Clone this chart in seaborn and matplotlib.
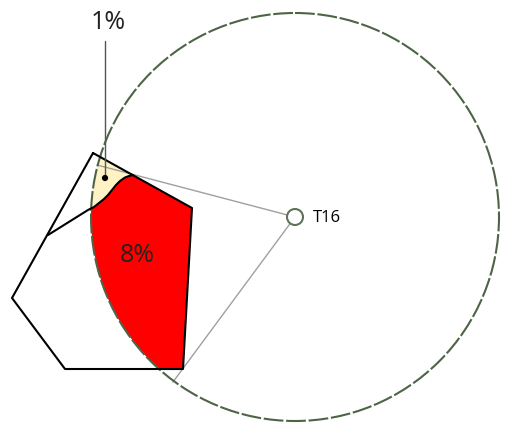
import numpy as np
import pandas as pd
import seaborn as sns
import matplotlib
matplotlib.use("Agg")
import matplotlib.pyplot as plt
from matplotlib.patches import Circle, Polygon

# ---- data (pixel-like map coordinates, y downward) ----
site_label = "T16"
site_xy = (295, 217)
buffer_radius = 204
outer_x = [93, 192, 183, 65, 12, 93]
outer_y = [153, 208, 369, 369, 298, 153]
split_x = [48, 80, 88, 94, 99, 104, 108, 112, 116, 120, 125, 129, 133]
split_y = [235, 215, 210, 207, 203, 199, 195, 190, 185, 181, 177.5, 176, 175]
upper_x = [93, 133, 129, 125, 120, 116, 112, 108, 104, 99, 94, 88, 80, 48]
upper_y = [153, 175, 176, 177.5, 181, 185, 190, 195, 199, 203, 207, 210, 215, 235]
lower_x = [133, 192, 183, 65, 12, 48, 80, 88, 94, 99, 104, 108, 112, 116, 120, 125, 129]
lower_y = [175, 208, 369, 369, 298, 235, 215, 210, 207, 203, 199, 195, 190, 185, 181, 177.5, 176]
ray_end_x = [97, 173]
ray_end_y = [165, 382]
pct_labels = ["1%", "8%"]
dot_xy = (105, 178)

sns.set_theme(style="white")
plt.rcParams['font.family'] = ['Open Sans', 'DejaVu Sans']

fig = plt.figure(figsize=(5.08, 4.28), dpi=100)
ax = fig.add_axes([0, 0, 1, 1])
ax.set_xlim(0, 508)
ax.set_ylim(428, 0)
ax.set_axis_off()

clip = Circle(site_xy, buffer_radius, transform=ax.transData, facecolor='none', edgecolor='none')
ax.add_patch(clip)

pu = Polygon(np.column_stack([upper_x, upper_y]), closed=True, facecolor='#fff2c4', edgecolor='none', zorder=1)
pl = Polygon(np.column_stack([lower_x, lower_y]), closed=True, facecolor='#ff0000', edgecolor='none', zorder=1)
for p in (pu, pl):
    ax.add_patch(p)
    p.set_clip_path(clip)

# rays from site
for ex, ey in zip(ray_end_x, ray_end_y):
    sns.lineplot(x=[site_xy[0], ex], y=[site_xy[1], ey], sort=False, ax=ax,
                 color='#a0a0a0', linewidth=1.0, zorder=2, estimator=None)

# dashed buffer circle
ax.add_patch(Circle(site_xy, buffer_radius, facecolor='none', edgecolor='#4d6446',
                    linewidth=1.5, linestyle=(0, (9.5, 1.3)), zorder=3))

# polygon outlines
sns.lineplot(x=outer_x, y=outer_y, sort=False, estimator=None, ax=ax, color='black', linewidth=1.5, zorder=4)
sns.lineplot(x=split_x, y=split_y, sort=False, estimator=None, ax=ax, color='black', linewidth=1.5, zorder=4)

# site marker
ax.add_patch(Circle(site_xy, 8, facecolor='white', edgecolor='#5f7358', linewidth=1.5, zorder=5))
ax.text(site_xy[0] + 18, site_xy[1] + 1, site_label, fontsize=12, va='center', ha='left', color='black')

# 1% leader
sns.lineplot(x=[dot_xy[0], dot_xy[0]], y=[41, dot_xy[1]], sort=False, estimator=None, ax=ax,
             color='#555555', linewidth=1.0, zorder=5)
sns.scatterplot(x=[dot_xy[0]], y=[dot_xy[1]], ax=ax, color='black', s=20, zorder=6, edgecolor='none')
ax.text(108, 22, pct_labels[0], fontsize=18, ha='center', va='center', color='#222222')
ax.text(137, 255, pct_labels[1], fontsize=18, ha='center', va='center', color='#222222')

ax.set_xlim(0, 508)
ax.set_ylim(428, 0)
fig.savefig("out.png", dpi=100)
